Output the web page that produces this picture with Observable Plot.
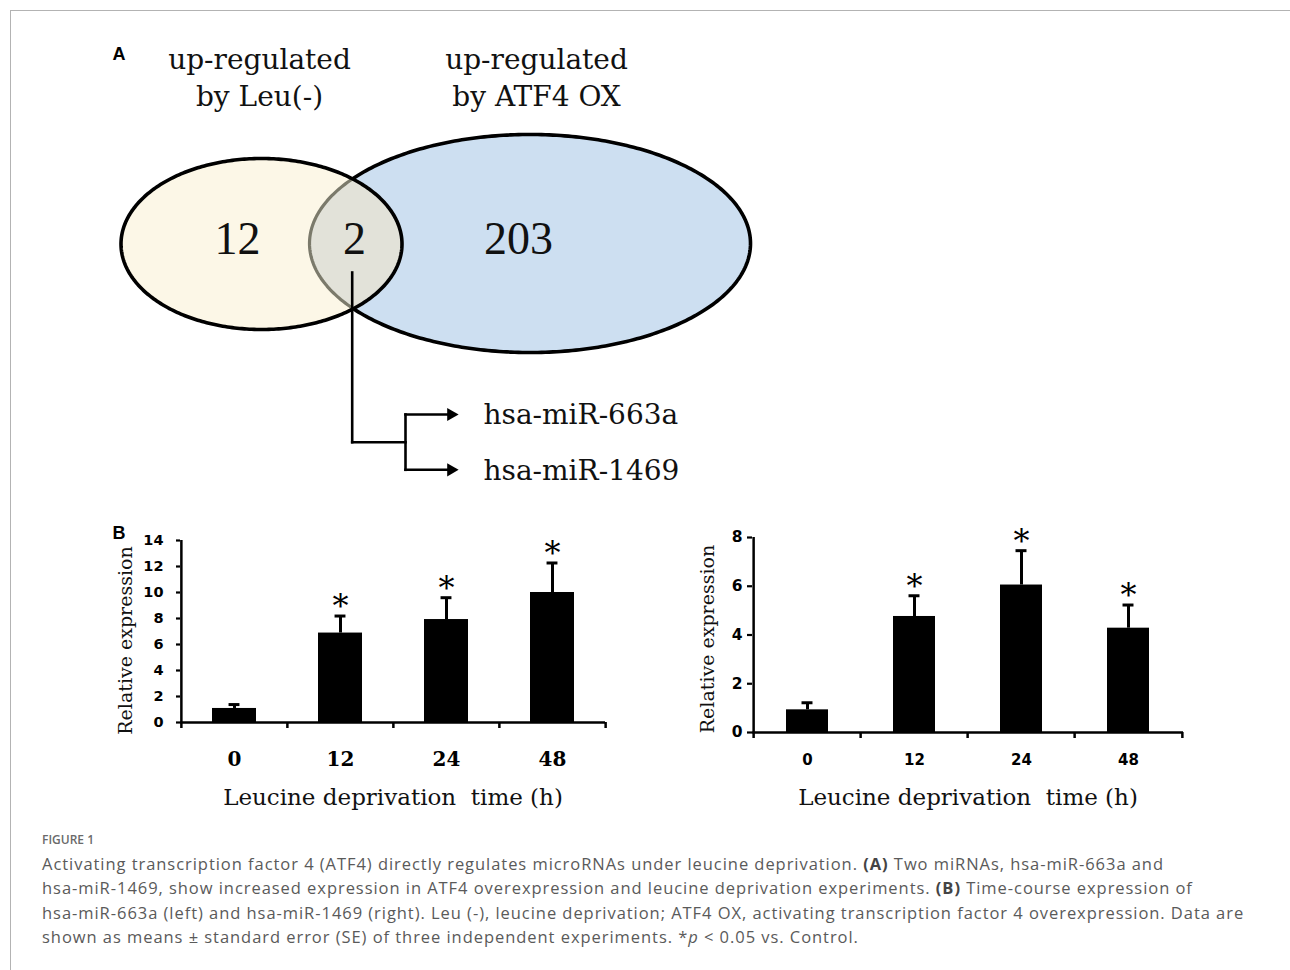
<!DOCTYPE html>
<html>
<head>
<meta charset="utf-8">
<script src="https://cdn.jsdelivr.net/npm/d3@7"></script>
<script src="https://cdn.jsdelivr.net/npm/@observablehq/plot@0.6"></script>
<style>
  html, body { margin: 0; padding: 0; background: #fff; }
  #page { position: relative; width: 1290px; height: 970px; overflow: hidden; background: #fff; }
  #frame { position: absolute; left: 10px; top: 10px; width: 1300px; height: 1000px;
           border-left: 1px solid #b3b3b3; border-top: 1px solid #b3b3b3; }
  .panel { position: absolute; }
  .panel svg { background: transparent !important; }
  #figlabel { position: absolute; left: 42px; top: 832px; font-family: "Open Sans", sans-serif;
              font-size: 12px; font-weight: 600; color: #6a6a6a; line-height: 16px; }
  #caption { position: absolute; left: 42px; top: 852px; font-family: "Open Sans", sans-serif;
             font-size: 16.5px; letter-spacing: 0.95px; color: #5a5a5a; line-height: 24.4px; white-space: nowrap; }
  #caption b { color: #444; }
</style>
</head>
<body>
<div id="page">
  <div id="frame"></div>
  <div class="panel" id="panelA" style="left:0px;top:0px"></div>
  <div class="panel" id="panelB1" style="left:100px;top:520px"></div>
  <div class="panel" id="panelB2" style="left:680px;top:520px"></div>
  <div id="figlabel">FIGURE 1</div>
  <div id="caption">
    <div>Activating transcription factor 4 (ATF4) directly regulates microRNAs under leucine deprivation. <b>(A)</b> Two miRNAs, hsa-miR-663a and</div>
    <div>hsa-miR-1469, show increased expression in ATF4 overexpression and leucine deprivation experiments. <b>(B)</b> Time-course expression of</div>
    <div>hsa-miR-663a (left) and hsa-miR-1469 (right). Leu (-), leucine deprivation; ATF4 OX, activating transcription factor 4 overexpression. Data are</div>
    <div>shown as means ± standard error (SE) of three independent experiments. *<i>p</i> &lt; 0.05 vs. Control.</div>
  </div>
</div>
<script>
// ---------------- DATA ----------------
const panelLabels = ["A", "B"];
const vennSetLabels = ["up-regulated\nby Leu(-)", "up-regulated\nby ATF4 OX"];
const vennCounts = [12, 2, 203];            // Leu(-) only, both, ATF4 OX only
const sharedMiRNAs = ["hsa-miR-663a", "hsa-miR-1469"];

const timePoints = ["0", "12", "24", "48"];
const miR663aMean = [1.08, 6.88, 7.92, 10.0];
const miR663aSE   = [0.30, 1.31, 1.68, 2.27];
const miR1469Mean = [0.93, 4.76, 6.05, 4.28];
const miR1469SE   = [0.29, 0.85, 1.41, 0.95];
const significant = [false, true, true, true];
const yTicks663a = [0, 2, 4, 6, 8, 10, 12, 14];
const yTicks1469 = [0, 2, 4, 6, 8];
const xAxisTitle = "Leucine deprivation  time (h)";
const yAxisTitle = "Relative expression";

// ---------------- LAYOUT (diagram geometry, pixels) ----------------
const vennLayout = {
  left:  {cx: 261,   cy: 243.5, rx: 140.5, ry: 85.5},
  right: {cx: 529.5, cy: 243,   rx: 220.5, ry: 109},
  headingX: [259, 536], headingBaseline: 105,
  countX: [237, 354, 518], countY: 239,
  stemX: 351.7, stemTop: 272, trunkX: 405, joinY: 441.7,
  branchY: [414, 469.3], arrowTip: 458, labelX: 483
};

const serif = "DejaVu Serif";
const serif2 = "Liberation Serif";
const sans = "DejaVu Sans";

// ---------------- PANEL A: Venn ----------------
function ellipsePts(e, start, n = 360) {
  return d3.range(n).map(i => {
    const a = start + 2 * Math.PI * i / n;
    return {x: e.cx + e.rx * Math.cos(a), y: e.cy + e.ry * Math.sin(a)};
  });
}
const inside = (p, e) => ((p.x - e.cx) / e.rx) ** 2 + ((p.y - e.cy) / e.ry) ** 2 <= 1;
const L = vennLayout.left, R = vennLayout.right;
const leftPts = ellipsePts(L, -Math.PI);
const rightPts = ellipsePts(R, 0);
const leftIn = leftPts.filter(p => inside(p, R));
const rightIn = rightPts.filter(p => inside(p, L));
const lensPts = [...leftIn, ...rightIn];

const headings = vennSetLabels.map((t, i) => ({t, x: vennLayout.headingX[i], y: vennLayout.headingBaseline}));
const counts = vennCounts.map((c, i) => ({t: String(c), x: vennLayout.countX[i], y: vennLayout.countY}));
const V = vennLayout;
const connectors = [
  {x1: V.stemX, y1: V.stemTop, x2: V.stemX, y2: V.joinY},
  {x1: V.stemX, y1: V.joinY, x2: V.trunkX, y2: V.joinY},
  {x1: V.trunkX, y1: V.branchY[0], x2: V.trunkX, y2: V.branchY[1]},
  ...V.branchY.map(y => ({x1: V.trunkX, y1: y, x2: V.arrowTip - 10, y2: y}))
];
const mirLabels = sharedMiRNAs.map((t, i) => ({t, x: V.labelX, y: V.branchY[i]}));
const arrowHeads = V.branchY.map(y => ({x: V.arrowTip - 7.5, y}));

const venn = Plot.plot({
  width: 800, height: 500,
  marginTop: 0, marginRight: 0, marginBottom: 0, marginLeft: 0,
  x: {domain: [0, 800], range: [0, 800], axis: null},
  y: {domain: [0, 500], range: [0, 500], axis: null},
  style: {background: "transparent"},
  marks: [
    Plot.line(rightPts, {x: "x", y: "y", curve: "linear-closed", fill: "#cddff1", stroke: "#000", strokeWidth: 3.6}),
    Plot.line(leftPts, {x: "x", y: "y", curve: "linear-closed", fill: "#fcf7e7", stroke: "none"}),
    Plot.line(lensPts, {x: "x", y: "y", curve: "linear-closed", fill: "#e2e2d9", stroke: "none"}),
    Plot.line(rightIn, {x: "x", y: "y", stroke: "#7b7a6b", strokeWidth: 3.2}),
    Plot.line(leftPts, {x: "x", y: "y", curve: "linear-closed", fill: "none", stroke: "#000", strokeWidth: 3.6}),
    Plot.link(connectors, {x1: "x1", y1: "y1", x2: "x2", y2: "y2", stroke: "#000", strokeWidth: 2.6, strokeLinecap: "square"}),
    Plot.dot(arrowHeads, {x: "x", y: "y", symbol: "triangle", rotate: 90, r: 4.9, fill: "#000", stroke: "none"}),
    Plot.text(headings, {x: "x", y: "y", text: "t", fontFamily: serif, fontSize: 28, lineAnchor: "bottom", lineHeight: 1.32, fill: "#111"}),
    Plot.text(counts, {x: "x", y: "y", text: "t", fontFamily: serif2, fontSize: 46, lineAnchor: "middle", fill: "#111"}),
    Plot.text(mirLabels, {x: "x", y: "y", text: "t", fontFamily: serif, fontSize: 28, textAnchor: "start", lineAnchor: "middle", dy: 1, fill: "#111"}),
    Plot.text([panelLabels[0]], {x: () => 112, y: () => 59, text: d => d, fontFamily: "Liberation Sans", fontWeight: "bold", fontSize: 18, textAnchor: "start", lineAnchor: "bottom", fill: "#000"})
  ]
});
document.getElementById("panelA").appendChild(venn);

// ---------------- PANEL B: bar charts ----------------
function barChart(cfg) {
  const rows = timePoints.map((t, i) => ({t, mean: cfg.means[i], se: cfg.ses[i], top: cfg.means[i] + cfg.ses[i], sig: significant[i]}));
  const n = timePoints.length;
  const step = (cfg.width - cfg.marginLeft - cfg.marginRight) / n;
  const bw = step * (1 - cfg.padding);
  const capW = 11;
  const yMax = cfg.yTicks[cfg.yTicks.length - 1];
  const marks = [
    Plot.barY(rows, {x: "t", y: "mean", fill: "#000"}),
    Plot.ruleX(rows, {x: "t", y1: "mean", y2: "top", stroke: "#000", strokeWidth: 3}),
    Plot.tickY(rows, {x: "t", y: "top", stroke: "#000", strokeWidth: 3, insetLeft: (bw - capW) / 2, insetRight: (bw - capW) / 2}),
    Plot.text(rows.filter(d => d.sig), {x: "t", y: "top", text: () => "*", fontFamily: serif, fontSize: 32, lineAnchor: "middle", dy: -9, fill: "#000"}),
    // x axis line and boundary ticks
    Plot.ruleY([0], {stroke: "#000", strokeWidth: 2.5}),
    Plot.ruleX(timePoints, {x: d => d, dx: -step / 2, y1: () => 0, y2: () => 0, insetBottom: -6, stroke: "#000", strokeWidth: 2.5}),
    Plot.ruleX([timePoints[n - 1]], {x: d => d, dx: step / 2, y1: () => 0, y2: () => 0, insetBottom: -6, stroke: "#000", strokeWidth: 2.5}),
    // y axis line
    Plot.ruleX([timePoints[0]], {x: d => d, dx: -step / 2, y1: () => 0, y2: () => yMax, stroke: "#000", strokeWidth: 2.5}),
    Plot.axisY({ticks: cfg.yTicks, tickSize: cfg.yTickSize, tickPadding: cfg.yTickPadding, strokeWidth: 2.2, stroke: "#000", fill: "#000",
                fontFamily: sans, fontWeight: "bold", fontSize: cfg.yFontSize, label: null, tickFormat: d => String(d)}),
    Plot.axisX({tickSize: 0, tickPadding: cfg.xTickPadding, fill: "#000", fontFamily: cfg.xFont, fontWeight: "bold",
                fontSize: cfg.xFontSize, label: null}),
    Plot.text([xAxisTitle], {text: d => d, frameAnchor: "bottom", lineAnchor: "middle", dy: cfg.xTitleDy, fontFamily: serif, fontSize: 23, fill: "#111"}),
    Plot.text([yAxisTitle], {text: d => d, frameAnchor: "left", rotate: -90, textAnchor: "middle", lineAnchor: "middle",
                dx: cfg.yTitleDx, dy: cfg.yTitleDy, fontFamily: serif, fontSize: 19, fill: "#111"})
  ];
  if (cfg.panelLabel) {
    marks.push(Plot.text([cfg.panelLabel], {text: d => d, frameAnchor: "top-left", textAnchor: "start", lineAnchor: "bottom",
      dx: cfg.panelDx, dy: cfg.panelDy, fontFamily: "Liberation Sans", fontWeight: "bold", fontSize: 18, fill: "#000"}));
  }
  return Plot.plot({
    width: cfg.width, height: cfg.height,
    marginLeft: cfg.marginLeft, marginRight: cfg.marginRight, marginTop: cfg.marginTop, marginBottom: cfg.marginBottom,
    x: {domain: timePoints, paddingInner: cfg.padding, paddingOuter: cfg.padding / 2, axis: null},
    y: {domain: [0, yMax], axis: null},
    style: {background: "transparent", overflow: "visible"},
    marks
  });
}

document.getElementById("panelB1").appendChild(barChart({
  means: miR663aMean, ses: miR663aSE, yTicks: yTicks663a,
  width: 520, height: 300, marginLeft: 80, marginRight: 15, marginTop: 20, marginBottom: 98,
  padding: 0.585, yTickSize: 4, yTickPadding: 13, yFontSize: 14.5,
  xTickPadding: 29, xFont: serif, xFontSize: 20, xTitleDy: 75,
  yTitleDx: -55, yTitleDy: 9,
  panelLabel: panelLabels[1], panelDx: -68, panelDy: -2
}));

document.getElementById("panelB2").appendChild(barChart({
  means: miR1469Mean, ses: miR1469SE, yTicks: yTicks1469,
  width: 520, height: 300, marginLeft: 72, marginRight: 17, marginTop: 17, marginBottom: 88,
  padding: 0.61, yTickSize: 5, yTickPadding: 5, yFontSize: 15.5,
  xTickPadding: 22, xFont: sans, xFontSize: 15, xTitleDy: 65,
  yTitleDx: -45, yTitleDy: 4
}));
</script>
</body>
</html>
